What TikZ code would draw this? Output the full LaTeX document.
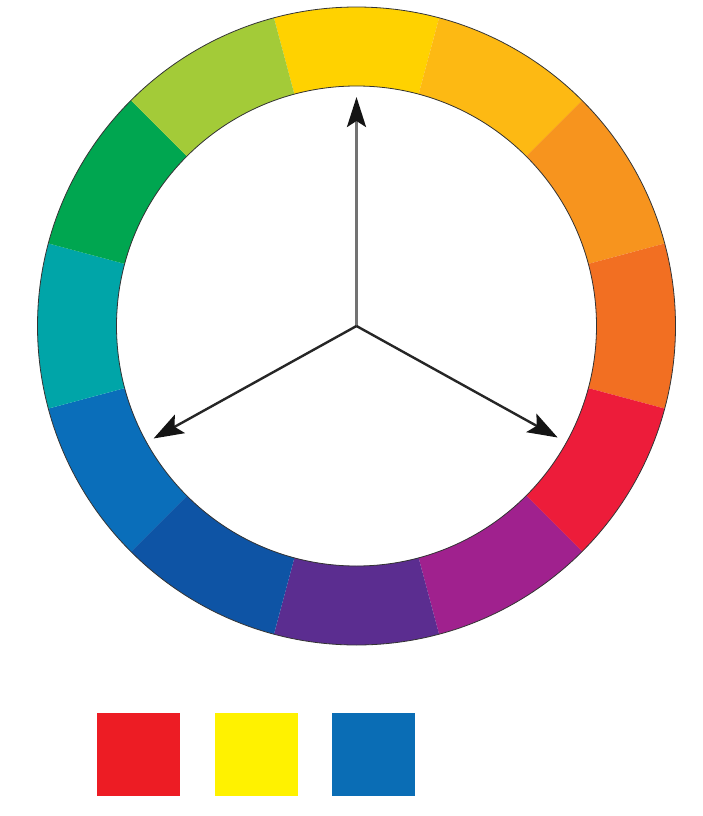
\documentclass[tikz,border=0pt]{standalone}
\usetikzlibrary{arrows.meta}
\definecolor{cY}{HTML}{FFD200}
\definecolor{cYO}{HTML}{FDB913}
\definecolor{cOL}{HTML}{F7941E}
\definecolor{cO}{HTML}{F26F22}
\definecolor{cR}{HTML}{ED1C3A}
\definecolor{cRV}{HTML}{A0218E}
\definecolor{cV}{HTML}{5B2D90}
\definecolor{cBV}{HTML}{0E54A5}
\definecolor{cB}{HTML}{0A6EBA}
\definecolor{cT}{HTML}{00A5A8}
\definecolor{cG}{HTML}{00A650}
\definecolor{cYG}{HTML}{A3CB38}
\definecolor{sqR}{HTML}{ED1C24}
\definecolor{sqY}{HTML}{FFF200}
\definecolor{sqB}{HTML}{0A6DB5}
\tikzset{
  arr/.style={line width=2.4pt,draw=black!85,-{Stealth[length=30pt,width=21pt,inset=6pt,color=black!92]}},
  arrgray/.style={line width=2.8pt,draw=black!55,-{Stealth[length=30pt,width=19pt,inset=6pt,color=black!92]}},
  swatch/.style={minimum width=83pt,minimum height=83pt,inner sep=0pt,anchor=north west}
}
\newcommand{\seg}[3]{\fill[#3] (#1:319) arc (#1:#2:319) -- (#2:240) arc (#2:#1:240) -- cycle;}
\begin{document}
\begin{tikzpicture}[x=1pt,y=1pt]
\useasboundingbox (0,-816) rectangle (703,0);
\begin{scope}[shift={(356.5,-326)}]
\seg{75}{105}{cY}
\seg{45}{75}{cYO}
\seg{15}{45}{cOL}
\seg{-15}{15}{cO}
\seg{-45}{-15}{cR}
\seg{-75}{-45}{cRV}
\seg{-105}{-75}{cV}
\seg{-135}{-105}{cBV}
\seg{-165}{-135}{cB}
\seg{165}{195}{cT}
\seg{135}{165}{cG}
\seg{105}{135}{cYG}
\draw[line width=0.8pt,black!80] (0,0) circle (319);
\draw[line width=0.8pt,black!80] (0,0) circle (240);
\coordinate (c) at (0,0);
\coordinate (tY) at (90:229);
\coordinate (tB) at (209:232);
\coordinate (tR) at (331:230);
\end{scope}
\draw[arrgray] (c) -- (tY);
\draw[arr] (c) -- (tB);
\draw[arr] (c) -- (tR);
\node[swatch,fill=sqR] (s1) at (97,-713) {};
\node[swatch,fill=sqY] (s2) at (215,-713) {};
\node[swatch,fill=sqB] (s3) at (332,-713) {};
\end{tikzpicture}
\end{document}
